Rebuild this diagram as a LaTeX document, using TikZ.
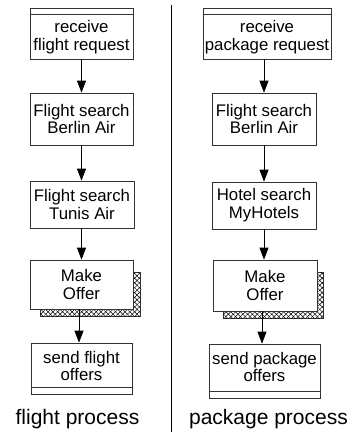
\documentclass[tikz,border=0pt]{standalone}
\usepackage{fontspec}
\setmainfont{Liberation Sans}
\usetikzlibrary{arrows.meta,patterns.meta}
\begin{document}
\begin{tikzpicture}[x=1pt,y=-1pt,
  box/.style={draw=black!80,line width=0.7pt,fill=white,inner sep=0pt},
  txt/.style={font=\fontsize{16.8}{17.8}\selectfont,align=center,inner sep=0pt},
  lbl/.style={font=\fontsize{21}{24}\selectfont,inner sep=0pt},
  arr/.style={draw=black,line width=0.7pt,-{Triangle[length=12pt,width=9pt]}},
  shad/.style={draw=black!80,line width=0.6pt,
    pattern={Lines[angle=45,distance=3.4pt,line width=0.5pt]}},
  shad2/.style={pattern={Lines[angle=-45,distance=3.4pt,line width=0.5pt]}}]
\useasboundingbox (0,0) rectangle (352,432);
% divider
\draw[line width=0.8pt] (171,5) coordinate (d1) -- (171,432) coordinate (d2);
% ---- left column ----
\node[box,minimum width=103pt,minimum height=51pt] (a1) at (81.5,33.5) {};
\draw[black!80,line width=0.7pt] ([yshift=-7pt]a1.north west) -- ([yshift=-7pt]a1.north east);
\node[txt] (a1t) at (81.5,37) {receive\\flight request};
\node[box,minimum width=103pt,minimum height=52pt,txt] (a2) at (81.5,119) {Flight search\\Berlin Air};
\node[box,minimum width=104pt,minimum height=47pt,txt] (a3) at (82,204.5) {Flight search\\Tunis Air};
\path[shad] (40,272) rectangle (140,316);
\path[shad2] (40,272) rectangle (140,316);
\node[box,minimum width=103pt,minimum height=49pt,txt] (a4) at (81.5,284.5) {Make\\Offer};
\node[box,minimum width=101pt,minimum height=51pt] (a5) at (81.5,368.5) {};
\draw[black!80,line width=0.7pt] ([yshift=7pt]a5.south west) -- ([yshift=7pt]a5.south east);
\node[txt] (a5t) at (81.5,366) {send flight\\offers};
\draw[arr] (a1.south) -- (a2.north);
\draw[arr] (a2.south) -- (a2.south |- a3.north);
\draw[arr] (a2.south |- a3.south) -- (a2.south |- a4.north);
\draw[arr] ([xshift=-2.5pt]a4.south) -- ([xshift=-2.5pt]a4.south |- a5.north);
\node[lbl] (la) at (77.5,419) {flight process};
% ---- right column ----
\node[box,minimum width=128pt,minimum height=51pt] (b1) at (267,33.5) {};
\draw[black!80,line width=0.7pt] ([yshift=-7pt]b1.north west) -- ([yshift=-7pt]b1.north east);
\node[txt] (b1t) at (267,37) {receive\\package request};
\node[box,minimum width=104pt,minimum height=52pt,txt] (b2) at (264,119) {Flight search\\Berlin Air};
\node[box,minimum width=104pt,minimum height=47pt,txt] (b3) at (264,205.5) {Hotel search\\MyHotels};
\path[shad] (223,272) rectangle (323,318);
\path[shad2] (223,272) rectangle (323,318);
\node[box,minimum width=104pt,minimum height=51pt,txt] (b4) at (265,285.5) {Make\\Offer};
\node[box,minimum width=111pt,minimum height=54pt] (b5) at (264.5,371) {};
\draw[black!80,line width=0.7pt] ([yshift=7pt]b5.south west) -- ([yshift=7pt]b5.south east);
\node[txt] (b5t) at (264.5,367) {send package\\offers};
\draw[arr] (b1.south -| b2.north) -- (b2.north);
\draw[arr] (b2.south) -- (b3.north);
\draw[arr] (b3.south) -- (b3.south |- b4.north);
\draw[arr] ([xshift=-3pt]b4.south) -- ([xshift=-3pt]b4.south |- b5.north);
\node[lbl] (lb) at (268.5,419) {package process};
\end{tikzpicture}
\end{document}
